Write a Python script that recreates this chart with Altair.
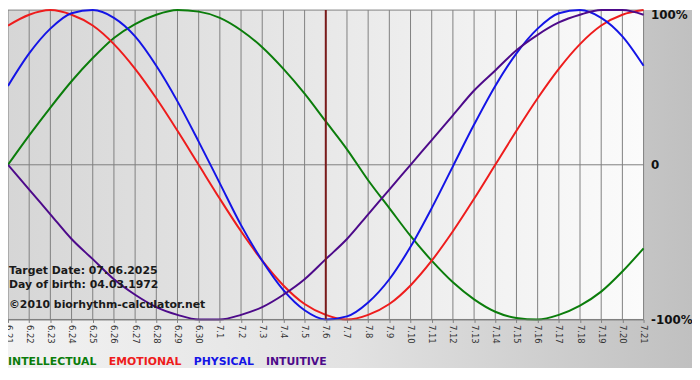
import altair as alt
import pandas as pd

days = ["6.21", "6.22", "6.23", "6.24", "6.25", "6.26", "6.27", "6.28", "6.29", "6.30",
        "7.1", "7.2", "7.3", "7.4", "7.5", "7.6", "7.7", "7.8", "7.9", "7.10",
        "7.11", "7.12", "7.13", "7.14", "7.15", "7.16", "7.17", "7.18", "7.19", "7.20", "7.21"]

series_names = ["INTELLECTUAL", "EMOTIONAL", "PHYSICAL", "INTUITIVE"]
series_colors = ["#0b7d0b", "#ee1c1c", "#1414e6", "#4d0a8a"]

intellectual = [0.00, 0.19, 0.37, 0.54, 0.69, 0.82, 0.91, 0.97, 1.00, 0.99, 0.95, 0.87, 0.76, 0.62, 0.46,
                0.28, 0.10, -0.10, -0.28, -0.46, -0.62, -0.76, -0.87, -0.95, -0.99, -1.00, -0.97, -0.91,
                -0.82, -0.69, -0.54]
emotional = [0.90, 0.97, 1.00, 0.97, 0.90, 0.78, 0.62, 0.43, 0.22, 0.00, -0.22, -0.43, -0.62, -0.78, -0.90,
             -0.97, -1.00, -0.97, -0.90, -0.78, -0.62, -0.43, -0.22, 0.00, 0.22, 0.43, 0.62, 0.78, 0.90,
             0.97, 1.00]
physical = [0.51, 0.72, 0.88, 0.98, 1.00, 0.95, 0.83, 0.64, 0.41, 0.15, -0.12, -0.39, -0.62, -0.81, -0.94,
            -1.00, -0.98, -0.89, -0.74, -0.53, -0.28, -0.01, 0.26, 0.51, 0.72, 0.88, 0.98, 1.00, 0.95,
            0.83, 0.64]
intuitive = [0.00, -0.16, -0.32, -0.48, -0.61, -0.74, -0.84, -0.92, -0.97, -1.00, -1.00, -0.97, -0.92, -0.84,
             -0.74, -0.61, -0.48, -0.32, -0.16, 0.00, 0.16, 0.32, 0.48, 0.61, 0.74, 0.84, 0.92, 0.97, 1.00,
             1.00, 0.97]

target_day = ["7.6"]
y_ticks = [-1, 0, 1]
info_texts = ["Target Date: 07.06.2025", "Day of birth: 04.03.1972", "\u00a92010 biorhythm-calculator.net"]

W, H = 643, 313
PAD_R, PAD_B = 49, 49
FONT = "DejaVu Sans"

rows = []
for name, vals in zip(series_names, [intellectual, emotional, physical, intuitive]):
    for d, v in zip(days, vals):
        rows.append({"day": d, "series": name, "value": v})
df = pd.DataFrame(rows)

x_scale = alt.Scale(type="point", domain=days, padding=0)
y_scale = alt.Scale(domain=[-1, 1], nice=False, zero=False)

x_axis = alt.Axis(grid=False, domain=True, domainColor="#808080", ticks=True, tickSize=3,
                  tickColor="#808080", labelAngle=90, labelFont=FONT, labelFontSize=8.5,
                  labelColor="#333333", labelPadding=2, labelOverlap=False, labelBound=False,
                  labelFlush=False, title=None, zindex=1)
y_axis = alt.Axis(orient="right", values=y_ticks, grid=False, domain=False, ticks=False,
                  labelExpr="datum.value == 1 ? '100%' : (datum.value == -1 ? '-100%' : '0')",
                  labelFont=FONT, labelFontWeight="bold", labelFontSize=12, labelColor="#111111",
                  labelPadding=7, labelBaseline={"expr": "datum.value == 1 ? 'top' : 'middle'"},
                  labelFlush=False, labelOverlap=False, title=None, zindex=1)

one = alt.Data(values=[{}])

outer_bg = alt.Chart(one).mark_rect(
    fill=alt.LinearGradient(gradient="linear", x1=0, x2=1, y1=0, y2=0,
                            stops=[alt.GradientStop(color="#f2f2f2", offset=0),
                                   alt.GradientStop(color="#e2e2e2", offset=0.5),
                                   alt.GradientStop(color="#c0c0c0", offset=1)])
).encode(x=alt.value(0), x2=alt.value(W + PAD_R), y=alt.value(0), y2=alt.value(H + PAD_B))

plot_bg = alt.Chart(one).mark_rect(
    fill=alt.LinearGradient(gradient="linear", x1=0, x2=1, y1=0, y2=0,
                            stops=[alt.GradientStop(color="#d6d6d6", offset=0),
                                   alt.GradientStop(color="#fbfbfb", offset=1)])
).encode(x=alt.value(0), x2=alt.value(W), y=alt.value(0), y2=alt.value(H))

vgrid = alt.Chart(pd.DataFrame({"day": days})).mark_rule(color="#808080", strokeWidth=1).encode(
    x=alt.X("day:O", scale=x_scale, axis=x_axis))

hgrid = alt.Chart(pd.DataFrame({"v": y_ticks})).mark_rule(color="#808080", strokeWidth=1).encode(
    y=alt.Y("v:Q", scale=y_scale, axis=y_axis))

lines = alt.Chart(df).mark_line(strokeWidth=2, interpolate="monotone").encode(
    x=alt.X("day:O", scale=x_scale, axis=x_axis),
    y=alt.Y("value:Q", scale=y_scale, axis=y_axis),
    color=alt.Color("series:N", scale=alt.Scale(domain=series_names, range=series_colors),
                    legend=alt.Legend(orient="none", legendX=-12, legendY=350, direction="horizontal",
                                      title=None, symbolType="square", symbolSize=1,
                                      symbolStrokeWidth=0.01, symbolOpacity=0.01,
                                      labelOffset=1, columnPadding=-4, padding=0, labelFont=FONT,
                                      labelFontWeight="bold", labelFontSize=11,
                                      labelColor={"expr": "scale('color', datum.value)"})),
    order=alt.Order("series:N"),
)

target = alt.Chart(pd.DataFrame({"day": target_day})).mark_rule(color="#7a1a1a", strokeWidth=2).encode(
    x=alt.X("day:O", scale=x_scale, axis=x_axis))

def info(txt, ypos):
    return alt.Chart(one).mark_text(text=txt, font=FONT, fontWeight="bold", fontSize=11,
                                    color="#1a1a1a", align="left", baseline="middle").encode(
        x=alt.value(1), y=alt.value(ypos))

t1 = info(info_texts[0], 264)
t2 = info(info_texts[1], 278)
t3 = info(info_texts[2], 298)

chart = alt.layer(outer_bg, plot_bg, vgrid, hgrid, lines, target, t1, t2, t3).properties(
    width=W, height=H,
    padding={"left": 0, "top": 0, "right": PAD_R, "bottom": PAD_B},
    autosize=alt.AutoSizeParams(type="none"),
).configure_view(stroke=None)

chart.save("out.html", embed_options={"renderer": "svg", "actions": False})
